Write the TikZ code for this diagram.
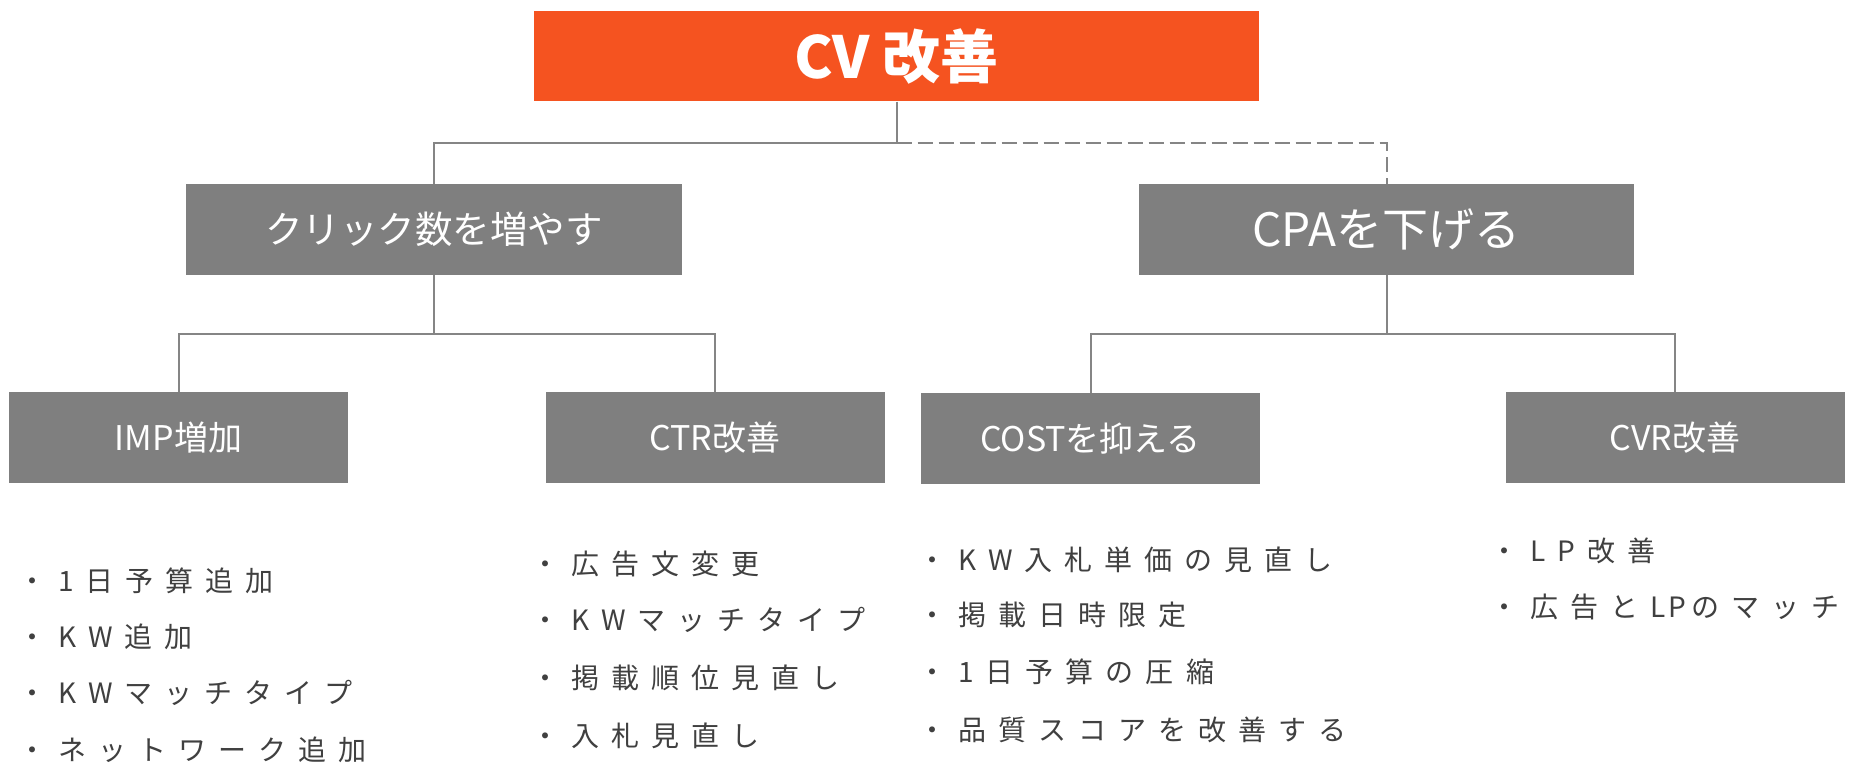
\documentclass[tikz,border=0pt]{standalone}
\usepackage{fontspec}
\setmainfont{Noto Sans CJK JP}
\newfontfamily\jpspaced{Noto Sans CJK JP}[LetterSpace=43]
\newfontfamily\jplittle{Noto Sans CJK JP}[LetterSpace=12]
\definecolor{boxgray}{HTML}{7F7F7F}
\definecolor{cvorange}{HTML}{F55320}
\definecolor{linegray}{HTML}{858585}
\definecolor{textgray}{HTML}{404040}
\begin{document}
\begin{tikzpicture}[x=1pt,y=-1pt,
  box/.style={fill=boxgray, text=white, inner sep=0pt, minimum height=91pt},
  smallbox/.style={box, minimum width=339pt, font=\fontsize{34}{38}\selectfont},
  conn/.style={draw=linegray, line width=2pt},
  item/.style={anchor=west, inner sep=0pt, text=textgray, font=\jpspaced\fontsize{28}{34}\selectfont}]
\fill[white] (0,0) rectangle (1849,765);
\useasboundingbox (0,0) rectangle (1849,765);

% junction points
\coordinate (j1) at (896.5,143);
\coordinate (j2) at (434,334);
\coordinate (j3) at (1386.5,334);

% boxes
\node[box, fill=cvorange, minimum width=725pt, minimum height=90pt,
      font=\bfseries\fontsize{58}{62}\selectfont] (top) at (896.5,56.5) {CV 改善};
\node[box, minimum width=496pt, font=\fontsize{37.5}{42}\selectfont] (click) at (434,229.5) {クリック数を増やす};
\node[box, minimum width=495pt, font=\fontsize{46}{50}\selectfont] (cpa) at (1386.5,229.5) {CPAを下げる};
\node[smallbox] (imp) at (178.5,437.5) {IMP増加};
\node[smallbox] (ctr) at (715,437.5) {CTR改善};
\node[smallbox] (cost) at (1090.5,438.5) {COSTを抑える};
\node[smallbox] (cvr) at (1675,437.5) {CVR改善};

% connectors
\draw[conn] (top.south) -- (j1) -| (click.north);
\draw[conn, dashed, dash pattern=on 15pt off 6pt] (j1) -| (cpa.north);
\draw[conn] (click.south) -- (j2) -| (imp.north);
\draw[conn] (j2) -| (ctr.north);
\draw[conn] (cpa.south) -- (j3) -| (cost.north);
\draw[conn] (j3) -| (cvr.north);

% lists
\node[item] (i1) at (18,581) {・1日予算追加};
\node[item] (i2) at (18,637) {・KW追加};
\node[item] (i3) at (18,693) {・KWマッチタイプ};
\node[item] (i4) at (18,750) {・ネットワーク追加};

\node[item] (c1) at (531,564) {・広告文変更};
\node[item] (c2) at (531,620) {・KWマッチタイプ};
\node[item] (c3) at (531,678) {・掲載順位見直し};
\node[item] (c4) at (531,736) {・入札見直し};

\node[item] (o1) at (918,560) {・KW入札単価の見直し};
\node[item] (o2) at (918,615) {・掲載日時限定};
\node[item] (o3) at (918,672) {・1日予算の圧縮};
\node[item] (o4) at (918,730) {・品質スコアを改善する};

\node[item] (v1) at (1490,551) {・LP改善};
\node[item] (v2) at (1490,607) {・広告と\hspace{12pt}{\jplittle LP}\hspace{5pt}のマッチ};
\end{tikzpicture}
\end{document}
